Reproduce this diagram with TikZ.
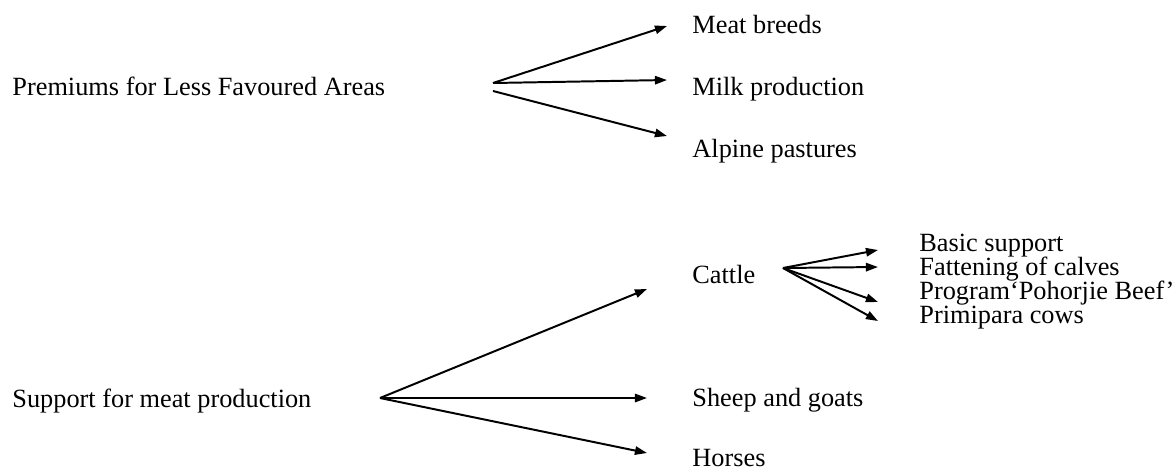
\documentclass[tikz,border=0pt]{standalone}
\usepackage{fontspec}
\setmainfont{Liberation Serif}
\usepackage{tikz}
\usetikzlibrary{arrows.meta,positioning,calc}

\begin{document}
\begin{tikzpicture}[
    x=0.456pt, y=-0.456pt,
    font=\fontsize{12pt}{11pt}\selectfont,
    >={Triangle[length=5.5pt,width=3.8pt]},
    item/.style={anchor=base west, inner sep=0pt},
    branch/.style={->, line width=0.9pt},
]
\useasboundingbox (0,0) rectangle (1176,470);

% --- Premiums for less favoured areas (top) ---
\node[item] (lfa)    at (12,95)  {Premiums for Less Favoured Areas};
\node[item] (breeds) at (692,33) {Meat breeds};
\node[item] (milk)   at (692,95) {Milk production};
\node[item] (alpine) at (692,157) {Alpine pastures};

\coordinate (lfa-fork)  at (493,83);
\coordinate (lfa-fork2) at (493,91);
\coordinate (breeds-tip) at (667,26);
\coordinate (milk-tip)   at (667,80);
\coordinate (alpine-tip) at (667,136);

\draw[branch] (lfa-fork)  -- (breeds-tip);
\draw[branch] (lfa-fork)  -- (milk-tip);
\draw[branch] (lfa-fork2) -- (alpine-tip);

% --- Support for meat production (bottom) ---
\node[item] (meat)   at (12,407)  {Support for meat production};
\node[item] (cattle) at (692,283) {Cattle};
\node[item] (sheep)  at (692,406) {Sheep and goats};
\node[item] (horses) at (692,466) {Horses};

\coordinate (meat-fork)  at (380,398);
\coordinate (cattle-tip) at (647,289);
\coordinate (sheep-tip)  at (647,398);
\coordinate (horses-tip) at (647,453);

\draw[branch] (meat-fork) -- (cattle-tip);
\draw[branch] (meat-fork) -- (sheep-tip);
\draw[branch] (meat-fork) -- (horses-tip);

% --- Cattle sub-measures (tight line spacing) ---
\node[item] (basic)  at (919,251) {Basic support};
\node[item] (calves) at ($(basic.base west)+(0,24)$)  {Fattening of calves};
\node[item] (beef)   at ($(calves.base west)+(0,24)$) {Program`Pohorjie Beef'};
\node[item] (cows)   at ($(beef.base west)+(0,24)$)   {Primipara cows};

\coordinate (cattle-fork) at (783,268);
\coordinate (basic-tip)  at (878,250);
\coordinate (calves-tip) at (878,267);
\coordinate (beef-tip)   at (878,302);
\coordinate (cows-tip)   at (878,321);

\draw[branch] (cattle-fork) -- (basic-tip);
\draw[branch] (cattle-fork) -- (calves-tip);
\draw[branch] (cattle-fork) -- (beef-tip);
\draw[branch] (cattle-fork) -- (cows-tip);

\end{tikzpicture}
\end{document}
